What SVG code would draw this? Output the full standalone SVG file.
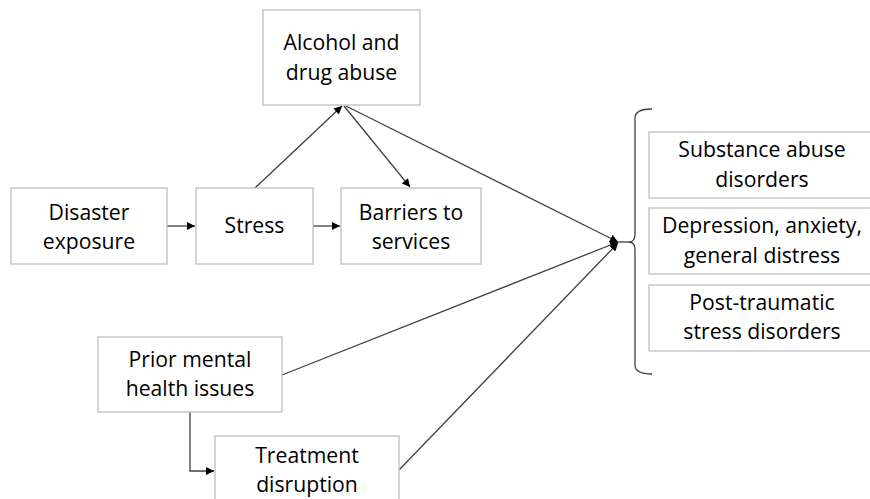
<svg xmlns="http://www.w3.org/2000/svg" width="870" height="499" viewBox="0 0 870 499">
<defs>
<marker id="ah" viewBox="0 0 10 10" refX="10" refY="5" markerWidth="9" markerHeight="8" markerUnits="userSpaceOnUse" orient="auto">
<path d="M0,0 L10,5 L0,10 Z" fill="#000"/>
</marker>
</defs>
<style>
.box{fill:#fff;stroke:#bfbfbf;stroke-width:1.3}
.t{font-family:"Open Sans","Liberation Sans",sans-serif;font-size:21.2px;fill:#000;text-anchor:middle}
.c{fill:none;stroke:#404040;stroke-width:1.3}
</style>
<rect width="870" height="499" fill="#fff"/>
<g id="connectors">
<line class="c" x1="167" y1="226" x2="195" y2="226" marker-end="url(#ah)"/>
<line class="c" x1="313" y1="226" x2="340" y2="226" marker-end="url(#ah)"/>
<line class="c" x1="255" y1="188" x2="342" y2="106" marker-end="url(#ah)"/>
<line class="c" x1="344" y1="106" x2="410" y2="187" marker-end="url(#ah)"/>
<line class="c" x1="346" y1="106" x2="618" y2="242" marker-end="url(#ah)"/>
<line class="c" x1="282" y1="375" x2="618" y2="242" marker-end="url(#ah)"/>
<line class="c" x1="399" y1="470" x2="618" y2="243" marker-end="url(#ah)"/>
<polyline class="c" points="190,412 190,471 214,471" marker-end="url(#ah)"/>
<line class="c" x1="617" y1="242" x2="630" y2="242"/>
<path class="c" d="M652,109 Q635,109 635,118 L635,234 Q635,242 629,242 Q635,242 635,250 L635,365 Q635,374 652,374"/>
</g>
<g id="alcohol">
<rect class="box" x="263" y="10" width="157" height="95"/>
<text class="t" x="341.5" y="50">Alcohol and</text>
<text class="t" x="341.5" y="80">drug abuse</text>
</g>
<g id="disaster">
<rect class="box" x="11" y="188" width="156" height="76"/>
<text class="t" x="89" y="220">Disaster</text>
<text class="t" x="89" y="249">exposure</text>
</g>
<g id="stress">
<rect class="box" x="196" y="188" width="117" height="76"/>
<text class="t" x="254.5" y="233">Stress</text>
</g>
<g id="barriers">
<rect class="box" x="341" y="188" width="140" height="76"/>
<text class="t" x="411" y="220">Barriers to</text>
<text class="t" x="411" y="249">services</text>
</g>
<g id="prior">
<rect class="box" x="98" y="337" width="184" height="75"/>
<text class="t" x="190" y="367">Prior mental</text>
<text class="t" x="190" y="396">health issues</text>
</g>
<g id="treatment">
<rect class="box" x="215" y="436" width="184" height="80"/>
<text class="t" x="307" y="463">Treatment</text>
<text class="t" x="307" y="492">disruption</text>
</g>
<g id="substance">
<rect class="box" x="649" y="132" width="230" height="66"/>
<text class="t" x="762" y="157">Substance abuse</text>
<text class="t" x="762" y="187">disorders</text>
</g>
<g id="depression">
<rect class="box" x="649" y="208" width="230" height="66"/>
<text class="t" x="762" y="233">Depression, anxiety,</text>
<text class="t" x="762" y="263">general distress</text>
</g>
<g id="ptsd">
<rect class="box" x="649" y="285" width="230" height="66"/>
<text class="t" x="762" y="310">Post-traumatic</text>
<text class="t" x="762" y="339">stress disorders</text>
</g>
</svg>
